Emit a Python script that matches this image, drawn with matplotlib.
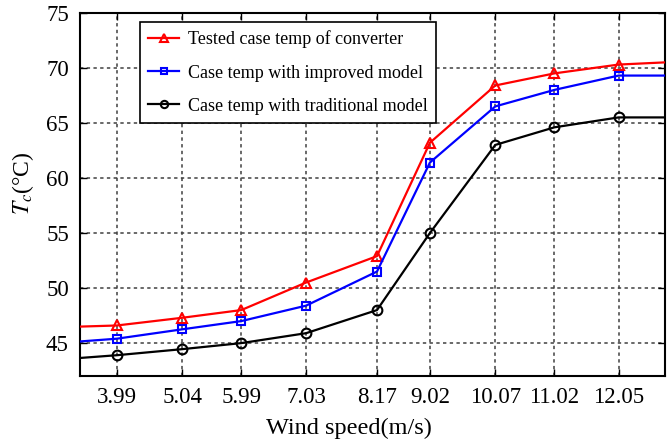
import numpy as np
import matplotlib
matplotlib.use("Agg")
import matplotlib.pyplot as plt

plt.rcParams['font.family'] = ['Liberation Serif', 'DejaVu Serif']
plt.rcParams['mathtext.fontset'] = 'stix'

# wind speeds (first and last entries sit on the axis limits)
wind = [3.4, 3.99, 5.04, 5.99, 7.03, 8.17, 9.02, 10.07, 11.02, 12.05, 12.8]
tick_speeds = [3.99, 5.04, 5.99, 7.03, 8.17, 9.02, 10.07, 11.02, 12.05]

tested = [46.5, 46.6, 47.3, 48.0, 50.5, 52.9, 63.2, 68.4, 69.5, 70.3, 70.5]
improved = [45.15, 45.4, 46.25, 47.0, 48.4, 51.5, 61.4, 66.5, 68.0, 69.3, 69.3]
traditional = [43.65, 43.9, 44.45, 45.0, 45.9, 48.0, 55.0, 63.0, 64.6, 65.5, 65.5]

labels = ['Tested case temp of converter',
          'Case temp with improved model',
          'Case temp with traditional model']

fig = plt.figure(figsize=(6.72, 4.42), dpi=100)
ax = fig.add_axes([0.119, 0.149, 0.871, 0.822])

mark = list(range(1, len(wind) - 1))
ax.plot(wind, tested, color='red', lw=1.6, marker='^', ms=7.5, mfc='none',
        mew=1.5, markevery=mark, label=labels[0], zorder=3)
ax.plot(wind, improved, color='blue', lw=1.6, marker='s', ms=6, mfc='none',
        mew=1.5, markevery=mark, label=labels[1], zorder=3)
ax.plot(wind, traditional, color='black', lw=1.6, marker='o', ms=7, mfc='none',
        mew=1.5, markevery=mark, label=labels[2], zorder=3)

ax.set_xlim(3.4, 12.8)
ax.set_ylim(42, 75)
ax.set_xticks(tick_speeds)
ax.set_xticklabels(['%.2f' % v for v in tick_speeds])
ax.set_yticks(np.arange(45, 76, 5))

ax.grid(True, linestyle=(0, (2.2, 2.2)), color='#404040', lw=1.1)
ax.tick_params(direction='in', top=True, right=True, length=5, width=1,
               labelsize=16.5, pad=8)
for s in ax.spines.values():
    s.set_linewidth(1.5)

ax.set_xlabel('Wind speed(m/s)', fontsize=17.5)
ax.xaxis.set_label_coords(0.46, -0.115)
ax.set_ylabel(r'$T_c$' + '(°C)', fontsize=17)
ax.yaxis.set_label_coords(-0.075, 0.53)

leg = ax.legend(loc='upper left', bbox_to_anchor=(0.103, 0.974), fontsize=13,
                frameon=True, fancybox=False, edgecolor='black', framealpha=1,
                borderaxespad=0, handlelength=1.7, handletextpad=0.5,
                labelspacing=0.9, borderpad=0.45, markerscale=0.75)
leg.get_frame().set_linewidth(1.2)

fig.savefig('out.png', dpi=100)
